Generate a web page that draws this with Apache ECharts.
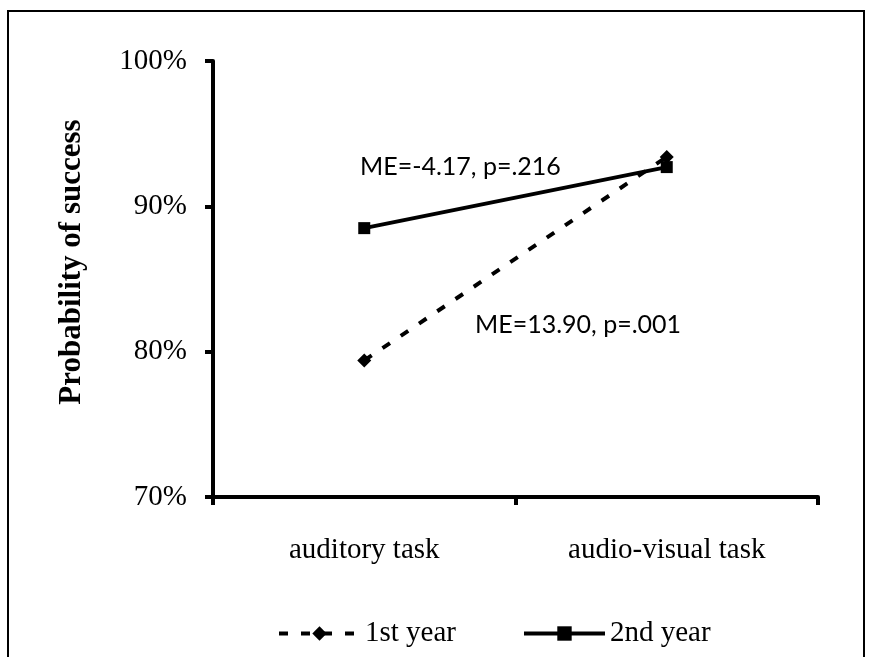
<!DOCTYPE html>
<html>
<head>
<meta charset="utf-8">
<script src="https://cdn.jsdelivr.net/npm/echarts@6/dist/echarts.min.js"></script>
<style>html,body{margin:0;padding:0;background:#fff;}#c{width:870px;height:657px;}</style>
</head>
<body>
<div id="c"></div>
<script>
var categories = ['auditory task', 'audio-visual task'];
var firstYear = [79.4, 93.4];
var secondYear = [88.5, 92.7];
var seriesNames = ['1st year', '2nd year'];
var yTicks = [70, 80, 90, 100];
var annotations = [
  {text: 'ME=-4.17, p=.216', x: 360, y: 167},
  {text: 'ME=13.90, p=.001', x: 475, y: 325}
];
var yTitle = 'Probability of success';

var chart = echarts.init(document.getElementById('c'));
var serif = '"Liberation Serif", "Times New Roman", serif';
var option = {
  backgroundColor: '#fff',
  animation: false,
  grid: {left: 213, right: 52, top: 61, bottom: 160},
  xAxis: {
    type: 'category',
    data: categories,
    boundaryGap: true,
    axisLine: {lineStyle: {color: '#000', width: 4}},
    axisTick: {show: true, length: 8, lineStyle: {color: '#000', width: 4}},
    axisLabel: {color: '#000', fontFamily: serif, fontSize: 29, margin: 39}
  },
  yAxis: {
    type: 'value',
    min: yTicks[0],
    max: yTicks[yTicks.length - 1],
    interval: 10,
    axisLine: {show: true, lineStyle: {color: '#000', width: 4}},
    axisTick: {show: true, length: 8, lineStyle: {color: '#000', width: 4}},
    splitLine: {show: false},
    axisLabel: {color: '#000', fontFamily: serif, fontSize: 29, margin: 26, formatter: '{value}%'}
  },
  legend: {
    data: seriesNames,
    left: 272,
    top: 614,
    itemWidth: 81,
    itemHeight: 18,
    itemGap: 66,
    lineStyle: {width: 4},
    textStyle: {color: '#000', fontFamily: serif, fontSize: 29, padding: [0, 0, 0, 0]}
  },
  series: [
    {
      name: seriesNames[0],
      type: 'line',
      data: firstYear,
      symbol: 'diamond',
      symbolSize: 14,
      z: 3,
      itemStyle: {color: '#000'},
      lineStyle: {color: '#000', width: 4, type: [9, 13]}
    },
    {
      name: seriesNames[1],
      type: 'line',
      data: secondYear,
      symbol: 'rect',
      symbolSize: 12,
      z: 2,
      itemStyle: {color: '#000'},
      lineStyle: {color: '#000', width: 4, type: 'solid'}
    }
  ],
  graphic: [
    {type: 'rect', shape: {x: 8, y: 11, width: 856, height: 680}, style: {fill: 'none', stroke: '#000', lineWidth: 2}, z: -1},
    {type: 'text', x: 72, y: 262, rotation: Math.PI / 2,
     style: {text: yTitle, fill: '#000', font: 'bold 31px ' + serif, textAlign: 'center', textVerticalAlign: 'middle'}}
  ].concat(annotations.map(function (a) {
    return {type: 'text', x: a.x, y: a.y,
      style: {text: a.text, fill: '#000', font: '25px Lato, "Noto Sans", sans-serif', textAlign: 'left', textVerticalAlign: 'middle'}};
  }))
};
chart.setOption(option);
</script>
</body>
</html>
